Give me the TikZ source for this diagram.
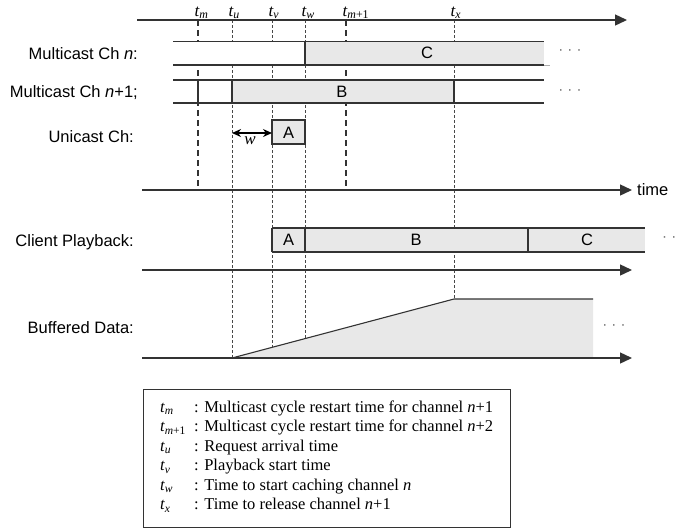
\documentclass[tikz,border=0pt]{standalone}
\usepackage{fontspec}
\setmainfont{Liberation Serif}
\setsansfont{Liberation Sans}
\usetikzlibrary{arrows.meta}
\definecolor{ln}{HTML}{333333}
\definecolor{fillg}{HTML}{E8E8E8}
\begin{document}
\begin{tikzpicture}[x=1pt,y=-1pt,
 axisline/.style={draw=ln,line width=1.4pt,-{Triangle[length=12pt,width=11pt]}},
 bandline/.style={draw=ln,line width=1.2pt},
 thickdash/.style={draw=ln,line width=1.5pt,dash pattern=on 6pt off 4pt},
 thindash/.style={draw=ln!90,line width=0.75pt,dash pattern=on 3pt off 2pt},
 lab/.style={font=\fontsize{16.5}{18}\sffamily,anchor=east,inner sep=0pt},
 boxlab/.style={font=\fontsize{16.5}{18}\sffamily,inner sep=0pt},
 tlab/.style={font=\fontsize{17}{19}\selectfont,inner sep=0pt,anchor=base west},
 dotlab/.style={font=\fontsize{15}{17}\sffamily,text=ln!70,inner sep=0pt},
 leg/.style={font=\fontsize{16.5}{18}\selectfont,inner sep=0pt,anchor=base west},
]
\useasboundingbox (0,0) rectangle (678,531);

% time coordinates
\coordinate (tmT) at (198,20);  \coordinate (tmB) at (198,190);
\coordinate (tm1T) at (346,20); \coordinate (tm1B) at (346,190);
\coordinate (tuT) at (232,20);  \coordinate (tuB) at (232,358);
\coordinate (tvT) at (272,20);  \coordinate (tvB) at (272,347.4);
\coordinate (twT) at (305,20);  \coordinate (twB) at (305,338.6);
\coordinate (txT) at (454,20);  \coordinate (txB) at (454,299);

% vertical marker lines
\draw[thickdash] (tmT) -- (tmB);
\draw[thickdash] (tm1T) -- (tm1B);
\draw[thindash] (tuT) -- (tuB);
\draw[thindash] (tvT) -- (tvB);
\draw[thindash] (twT) -- (twB);
\draw[thindash] (txT) -- (txB);

% top axis and time labels
\coordinate (topL) at (137,20); \coordinate (topR) at (627,20);
\draw[axisline] (topL) -- (topR);
\node[tlab] (ltm) at (194.5,16) {\itshape t\textsubscript{m}};
\node[tlab] (ltu) at (228.5,16) {\itshape t\textsubscript{u}};
\node[tlab] (ltv) at (268.5,16) {\itshape t\textsubscript{v}};
\node[tlab] (ltw) at (301.5,16) {\itshape t\textsubscript{w}};
\node[tlab] (ltm1) at (342.5,16) {\itshape t\textsubscript{m\upshape+1}};
\node[tlab] (ltx) at (450.5,16) {\itshape t\textsubscript{x}};

% Multicast Ch n
\fill[white] (173,41.5) rectangle (305,65);
\fill[fillg] (305,41.5) rectangle (544,65);
\draw[bandline] (173,41.5) -- (544,41.5);
\draw[bandline] (173,65) -- (544,65);
\draw[ln!40,line width=1pt] (544,65) -- (550,65);
\draw[bandline] (305,41.5) -- (305,65);
\node[boxlab] (C1) at (427,53) {C};
\node[dotlab] (d1) at (570,52) {· · ·};
\node[lab] (Ln) at (138,54) {Multicast Ch \textit{n}:};

% Multicast Ch n+1
\fill[white] (173,80) rectangle (232,103);
\fill[fillg] (232,80) rectangle (454,103);
\fill[white] (454,80) rectangle (544,103);
\draw[bandline] (173,80) -- (544,80);
\draw[bandline] (173,103) -- (544,103);
\draw[bandline] (198,80) -- (198,103);
\draw[bandline] (232,80) -- (232,103);
\draw[bandline] (454,80) -- (454,103);
\node[boxlab] (B1) at (342,92) {B};
\node[dotlab] (d2) at (570,92) {· · ·};
\node[lab] (Ln1) at (138,93) {Multicast Ch \textit{n}+1;};

% Unicast Ch
\draw[bandline,fill=fillg] (272,120) rectangle (305,144);
\node[boxlab] (A1) at (288.5,132.5) {A};
\coordinate (wL) at (232,133); \coordinate (wR) at (272,133);
\draw[draw=black,line width=1.4pt,{Stealth[length=9pt,width=8pt]}-{Stealth[length=9pt,width=8pt]}] (wL) -- (wR);
\node[font=\fontsize{17}{19}\selectfont\itshape,inner sep=0pt] (wl) at (250,141) {w};
\node[lab] (Lu) at (134,137) {Unicast Ch:};

% time axis
\coordinate (t1L) at (142,190); \coordinate (t1R) at (632,190);
\draw[axisline] (t1L) -- (t1R);
\node[boxlab,anchor=west] (timel) at (637,190) {time};

% Client Playback
\fill[fillg] (272,228) rectangle (645,252);
\draw[bandline] (272,228) -- (645,228);
\draw[bandline] (272,252) -- (645,252);
\draw[bandline] (272,228) -- (272,252);
\draw[bandline] (305,228) -- (305,252);
\draw[bandline] (528,228) -- (528,252);
\node[boxlab] (A2) at (288.5,240) {A};
\node[boxlab] (B2) at (416,240) {B};
\node[boxlab] (C2) at (587,240) {C};
\node[dotlab,anchor=west] (d3) at (662,239) {· ·};
\node[lab] (Lc) at (134,242) {Client Playback:};
\coordinate (t2L) at (142,270); \coordinate (t2R) at (632,270);
\draw[axisline] (t2L) -- (t2R);

% Buffered Data
\coordinate (r0) at (232,358); \coordinate (r1) at (454,299);
\coordinate (r2) at (593,299); \coordinate (r3) at (593,358);
\fill[fillg] (r0) -- (r1) -- (r2) -- (r3) -- cycle;
\draw[ln,line width=1.1pt] (r0) -- (r1) -- (r2);
\coordinate (t3L) at (142,358); \coordinate (t3R) at (632,358);
\draw[axisline] (t3L) -- (t3R);
\node[dotlab] (d4) at (614,327) {· · ·};
\node[lab] (Lb) at (134,328) {Buffered Data:};

% legend
\draw[ln,line width=1pt] (143,389) rectangle (510,527);
\node[leg] (g1s) at (160,412) {\itshape t\textsubscript{m}};
\node[leg] (g1t) at (194,412) {: Multicast cycle restart time for channel \textit{n}+1};
\node[leg] (g2s) at (160,431.5) {\itshape t\textsubscript{m\upshape+1}};
\node[leg] (g2t) at (194,431.5) {: Multicast cycle restart time for channel \textit{n}+2};
\node[leg] (g3s) at (160,451) {\itshape t\textsubscript{u}};
\node[leg] (g3t) at (194,451) {: Request arrival time};
\node[leg] (g4s) at (160,470.5) {\itshape t\textsubscript{v}};
\node[leg] (g4t) at (194,470.5) {: Playback start time};
\node[leg] (g5s) at (160,490) {\itshape t\textsubscript{w}};
\node[leg] (g5t) at (194,490) {: Time to start caching channel \textit{n}};
\node[leg] (g6s) at (160,509.5) {\itshape t\textsubscript{x}};
\node[leg] (g6t) at (194,509.5) {: Time to release channel \textit{n}+1};
\end{tikzpicture}
\end{document}
